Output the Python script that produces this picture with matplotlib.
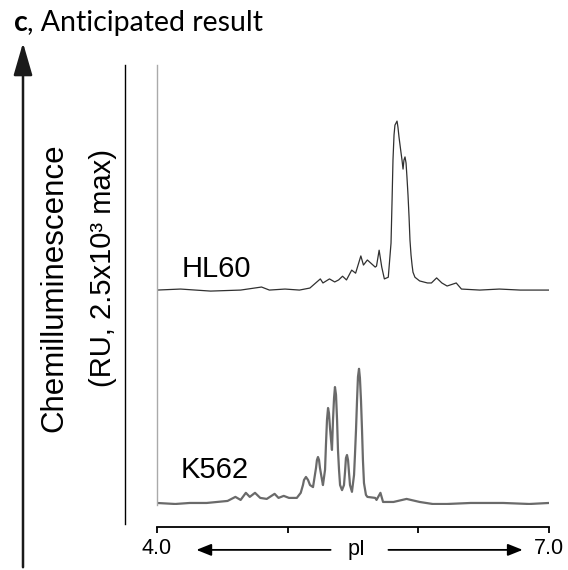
import matplotlib
matplotlib.use("Agg")
import matplotlib.pyplot as plt
from matplotlib.patches import FancyArrowPatch
from matplotlib.lines import Line2D

# chemiluminescence traces (RU) along the pI gradient
hl60_pi = [4.00, 4.18, 4.41, 4.64, 4.80, 4.86, 4.98, 5.09, 5.17, 5.25, 5.27, 5.32,
           5.36, 5.39, 5.42, 5.45, 5.49, 5.52, 5.56, 5.58, 5.61, 5.67, 5.68, 5.70,
           5.72, 5.74, 5.77, 5.791, 5.799, 5.806, 5.814, 5.821, 5.837, 5.844, 5.852,
           5.860, 5.867, 5.875, 5.883, 5.890, 5.898, 5.906, 5.913, 5.921, 5.929,
           5.936, 5.944, 5.952, 5.959, 5.974, 6.01, 6.07, 6.10, 6.14, 6.18, 6.22,
           6.29, 6.33, 6.47, 6.62, 6.78, 7.00]
hl60_ru = [0, 15, -15, 0, 45, 0, 15, 0, 30, 165, 105, 165,
           120, 150, 205, 150, 295, 250, 505, 370, 445, 340, 355, 590,
           340, 165, 190, 695, 1330, 1925, 2295, 2440, 2500, 2410, 2265,
           2145, 2040, 1925, 1790, 1925, 1970, 1880, 1670, 1405, 1080,
           740, 520, 370, 265, 190, 135, 105, 105, 180, 105, 60,
           105, 15, 0, 15, 0, 0]

k562_pi = [4.00, 4.14, 4.25, 4.38, 4.46, 4.54, 4.60, 4.64, 4.68, 4.71, 4.75, 4.79,
           4.84, 4.90, 4.93, 4.97, 5.01, 5.07, 5.10, 5.117, 5.125, 5.140, 5.156,
           5.171, 5.194, 5.217, 5.224, 5.232, 5.240, 5.247, 5.263, 5.270, 5.286,
           5.293, 5.301, 5.309, 5.316, 5.324, 5.332, 5.339, 5.347, 5.355, 5.362,
           5.370, 5.378, 5.385, 5.393, 5.401, 5.416, 5.431, 5.439, 5.446, 5.454,
           5.462, 5.469, 5.477, 5.492, 5.508, 5.515, 5.523, 5.531, 5.538, 5.546,
           5.553, 5.561, 5.569, 5.576, 5.584, 5.599, 5.61, 5.67, 5.68, 5.71, 5.73,
           5.81, 5.91, 6.01, 6.11, 6.22, 6.40, 6.65, 6.85, 7.00]
k562_ru = [0, -15, 0, 0, 15, 30, 90, 45, 150, 90, 150, 75,
           60, 135, 75, 105, 75, 75, 150, 265, 340, 385, 340,
           265, 235, 520, 635, 680, 635, 520, 340, 265, 490,
           860, 1230, 1405, 1330, 1110, 930, 785, 1230, 1555, 1715,
           1600, 1230, 785, 490, 265, 190, 265, 460, 665, 710,
           635, 460, 265, 165, 415, 710, 1080, 1525, 1865, 1985,
           1850, 1525, 1080, 635, 295, 120, 90, 75, 45, 150, 15,
           15, 60, 15, -15, -15, 0, 0, -15, 0]

samples = ["HL60", "K562"]
hl60_offset = 3150

fig = plt.figure(figsize=(5.68, 5.70), dpi=100)
W, H = 568.0, 570.0

ax = fig.add_axes([157 / W, 1 - 505 / H, 392 / W, 440 / H])
ax.plot(hl60_pi, [v + hl60_offset for v in hl60_ru], color="#303030", lw=0.9)
ax.plot(k562_pi, k562_ru, color="#6a6a6a", lw=1.6)
ax.set_xlim(4.0, 7.0)
ax.set_ylim(-30, 6480)

for side in ["top", "right"]:
    ax.spines[side].set_visible(False)
ax.spines["left"].set_color("#aaaaaa")
ax.spines["left"].set_linewidth(1.0)
ax.spines["bottom"].set_position(("outward", 16))
ax.spines["bottom"].set_linewidth(1.3)
ax.set_yticks([])
ax.set_xticks([4.0, 5.0, 6.0, 7.0])
ax.set_xticklabels(["4.0", "", "", "7.0"], fontsize=15.5, family="Liberation Sans")
ax.tick_params(axis="x", direction="out", length=4, width=1.3, pad=4)

# sample names
ax.text(4.19, hl60_offset + 190, samples[0], fontsize=21, family="Liberation Sans",
        va="baseline")
ax.text(4.18, 370, samples[1], fontsize=21, family="Liberation Sans", va="baseline")

# pI label with arrows
xt = ax.get_xaxis_transform()
ax.text(5.53, -0.102, "pI", transform=xt, fontsize=15.5, family="Liberation Sans",
        ha="center", va="center")
for x0, x1 in [(5.35, 4.28), (5.75, 6.82)]:
    ax.add_patch(FancyArrowPatch((x0, -0.102), (x1, -0.102), transform=xt,
                                 arrowstyle="-|>,head_length=9,head_width=3.6",
                                 mutation_scale=1, lw=1.3, color="black",
                                 clip_on=False))

# y axis text and lines
fig.text(54 / W, 1 - 288 / H, "Chemilluminescence", rotation=90, fontsize=22.5,
         family="Liberation Sans", ha="center", va="center")
fig.text(103 / W, 1 - 268 / H, "(RU, 2.5x10³ max)", rotation=90, fontsize=21,
         family="Liberation Sans", ha="center", va="center")
fig.add_artist(Line2D([125 / W, 125 / W], [1 - 65 / H, 1 - 524 / H],
                      color="black", lw=1.0))
fig.add_artist(FancyArrowPatch((23 / W, 0.0), (23 / W, 1 - 40 / H),
                               transform=fig.transFigure,
                               arrowstyle="-|>,head_length=20,head_width=5.8",
                               mutation_scale=1, lw=1.8, color="#1a1a1a"))

# panel title
fig.text(14 / W, 1 - 31 / H, "c", fontsize=20.5, family="Lato", weight="bold",
         va="baseline")
fig.text(27 / W, 1 - 31 / H, ", Anticipated result", fontsize=20.5, family="Lato",
         va="baseline")

fig.savefig("out.png", dpi=100)
